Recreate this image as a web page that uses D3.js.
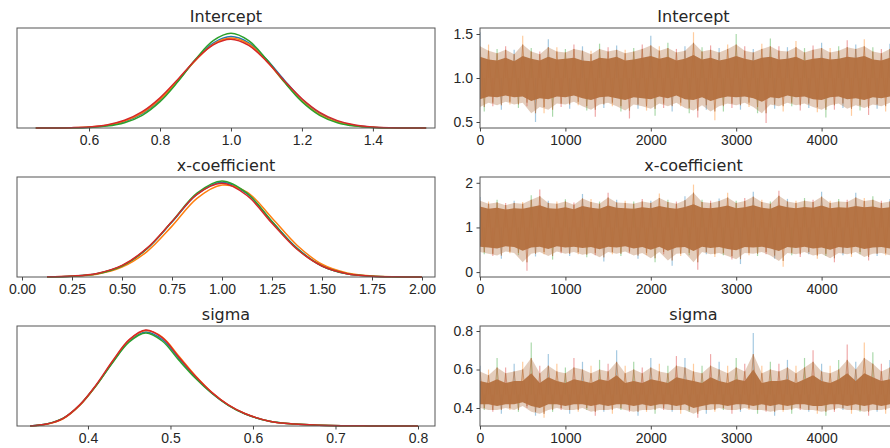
<!DOCTYPE html>
<html>
<head>
<meta charset="utf-8">
<title>Trace plot - D3.js</title>
<script src="https://d3js.org/d3.v7.min.js"></script>
<style>
  body { margin: 0; background: #fff; }
  svg { display: block; font-family: "DejaVu Sans", sans-serif; }
  .tick text { fill: #262626; font-size: 14px; }
  .tick line { stroke: #444; }
  .title { font-size: 16px; fill: #262626; text-anchor: middle; }
  .frame { fill: none; stroke: #555; stroke-width: 1; }
</style>
</head>
<body>
<div id="chart"></div>
<script>
// chain colours (matplotlib default cycle)
const chainColors = ["#1f77b4", "#ff7f0e", "#2ca02c", "#d62728"];

// ---- posterior densities ----
const interceptGrid = [0.45, 0.50, 0.55, 0.60, 0.65, 0.70, 0.75, 0.80, 0.85, 0.90, 0.95, 1.00,
  1.05, 1.10, 1.15, 1.20, 1.25, 1.30, 1.35, 1.40, 1.45, 1.50, 1.55];
const interceptBlue   = [0.0, 0.002, 0.008, 0.027, 0.083, 0.22, 0.49, 0.95, 1.59, 2.30, 2.87, 3.09, 2.88, 2.32, 1.62, 0.97, 0.50, 0.22, 0.085, 0.028, 0.008, 0.002, 0.0];
const interceptOrange = [0.0, 0.002, 0.009, 0.03, 0.09, 0.235, 0.51, 0.97, 1.60, 2.28, 2.83, 3.04, 2.84, 2.27, 1.56, 0.92, 0.46, 0.20, 0.075, 0.025, 0.007, 0.002, 0.0];
const interceptGreen  = [0.0, 0.001, 0.005, 0.019, 0.064, 0.18, 0.43, 0.89, 1.56, 2.32, 2.95, 3.20, 2.95, 2.32, 1.56, 0.89, 0.43, 0.18, 0.064, 0.019, 0.005, 0.001, 0.0];
const interceptRed    = [0.001, 0.003, 0.012, 0.037, 0.105, 0.26, 0.55, 1.02, 1.64, 2.30, 2.81, 3.00, 2.79, 2.26, 1.60, 0.99, 0.53, 0.25, 0.10, 0.036, 0.011, 0.003, 0.0];

const xcoefGrid = [0.125, 0.25, 0.375, 0.5, 0.625, 0.75, 0.875, 1.0, 1.125, 1.25, 1.375, 1.5, 1.625, 1.75, 1.875, 2.0];
const xcoefBlue   = [0.002, 0.014, 0.058, 0.19, 0.49, 0.95, 1.43, 1.64, 1.44, 0.96, 0.50, 0.19, 0.055, 0.012, 0.002, 0.0];
const xcoefOrange = [0.002, 0.011, 0.048, 0.17, 0.44, 0.88, 1.36, 1.59, 1.47, 1.02, 0.55, 0.22, 0.07, 0.018, 0.004, 0.001];
const xcoefGreen  = [0.002, 0.013, 0.056, 0.19, 0.49, 0.96, 1.45, 1.66, 1.45, 0.96, 0.49, 0.19, 0.056, 0.013, 0.002, 0.0];
const xcoefRed    = [0.003, 0.016, 0.062, 0.20, 0.50, 0.96, 1.43, 1.62, 1.41, 0.93, 0.48, 0.19, 0.057, 0.014, 0.003, 0.0];

const sigmaGrid = [0.33, 0.35, 0.37, 0.39, 0.41, 0.43, 0.45, 0.47, 0.49, 0.51, 0.53, 0.55, 0.57, 0.59, 0.62, 0.65, 0.68, 0.71, 0.74, 0.77, 0.80];
const sigmaBlue   = [0.0, 0.19, 0.76, 2.08, 4.06, 6.40, 8.48, 9.40, 8.65, 6.78, 4.90, 3.30, 2.08, 1.23, 0.47, 0.19, 0.076, 0.029, 0.01, 0.0, 0.0];
const sigmaOrange = [0.0, 0.17, 0.72, 2.05, 4.05, 6.45, 8.60, 9.55, 8.90, 7.00, 5.05, 3.38, 2.12, 1.25, 0.48, 0.19, 0.075, 0.028, 0.01, 0.003, 0.0];
const sigmaGreen  = [0.0, 0.20, 0.78, 2.10, 4.05, 6.35, 8.40, 9.30, 8.50, 6.60, 4.80, 3.28, 2.07, 1.22, 0.47, 0.19, 0.075, 0.028, 0.01, 0.0, 0.0];
const sigmaRed    = [0.0, 0.19, 0.77, 2.11, 4.13, 6.53, 8.64, 9.60, 8.83, 6.91, 4.99, 3.36, 2.11, 1.25, 0.48, 0.19, 0.077, 0.029, 0.01, 0.0, 0.0];

// ---- traces ----
// every 100 draws: extreme excursions (hi / lo), edge of the light fringe and of the dense core
const traceSteps = d3.range(0, 5001, 100);

const interceptHi = [1.52, 1.38, 1.33, 1.36, 1.32, 1.48, 1.34, 1.30, 1.44, 1.35, 1.33, 1.38, 1.36, 1.31, 1.39, 1.35, 1.37,
  1.32, 1.34, 1.38, 1.48, 1.36, 1.40, 1.33, 1.36, 1.52, 1.35, 1.37, 1.34, 1.38, 1.50, 1.36, 1.33, 1.39, 1.45, 1.36,
  1.35, 1.42, 1.34, 1.37, 1.40, 1.34, 1.36, 1.43, 1.38, 1.44, 1.35, 1.33, 1.39, 1.36, 1.34];
const interceptLo = [0.62, 0.68, 0.64, 0.70, 0.66, 0.68, 0.50, 0.60, 0.56, 0.67, 0.65, 0.69, 0.63, 0.56, 0.66, 0.68, 0.62,
  0.54, 0.65, 0.63, 0.57, 0.66, 0.62, 0.68, 0.60, 0.55, 0.64, 0.52, 0.62, 0.66, 0.64, 0.67, 0.60, 0.49, 0.65, 0.62,
  0.68, 0.63, 0.66, 0.61, 0.55, 0.64, 0.66, 0.57, 0.63, 0.58, 0.65, 0.62, 0.67, 0.64, 0.66];
const interceptFringeHi = [1.36, 1.31, 1.28, 1.32, 1.27, 1.38, 1.30, 1.27, 1.35, 1.30, 1.29, 1.33, 1.31, 1.27, 1.33, 1.30, 1.32,
  1.28, 1.30, 1.33, 1.37, 1.31, 1.34, 1.29, 1.31, 1.40, 1.30, 1.32, 1.29, 1.33, 1.38, 1.31, 1.29, 1.33, 1.36, 1.31,
  1.30, 1.35, 1.29, 1.32, 1.34, 1.29, 1.31, 1.35, 1.33, 1.36, 1.30, 1.28, 1.33, 1.31, 1.29];
const interceptFringeLo = [0.67, 0.72, 0.69, 0.73, 0.70, 0.72, 0.60, 0.67, 0.64, 0.71, 0.70, 0.73, 0.68, 0.64, 0.70, 0.72, 0.68,
  0.63, 0.70, 0.68, 0.65, 0.71, 0.68, 0.72, 0.66, 0.63, 0.69, 0.62, 0.68, 0.71, 0.69, 0.72, 0.67, 0.60, 0.70, 0.68,
  0.72, 0.69, 0.71, 0.67, 0.64, 0.69, 0.71, 0.65, 0.69, 0.66, 0.70, 0.68, 0.72, 0.70, 0.71];
const interceptCoreHi = [1.24, 1.21, 1.20, 1.23, 1.19, 1.25, 1.22, 1.20, 1.24, 1.21, 1.22, 1.23, 1.20, 1.19, 1.23, 1.22, 1.24,
  1.20, 1.21, 1.23, 1.25, 1.22, 1.24, 1.20, 1.22, 1.26, 1.21, 1.23, 1.20, 1.22, 1.25, 1.22, 1.20, 1.23, 1.24, 1.21,
  1.22, 1.24, 1.20, 1.22, 1.23, 1.21, 1.22, 1.24, 1.23, 1.25, 1.21, 1.20, 1.23, 1.22, 1.21];
const interceptCoreLo = [0.76, 0.79, 0.78, 0.80, 0.78, 0.79, 0.74, 0.77, 0.76, 0.79, 0.78, 0.80, 0.77, 0.75, 0.78, 0.79, 0.77,
  0.75, 0.78, 0.77, 0.76, 0.79, 0.77, 0.80, 0.76, 0.75, 0.78, 0.74, 0.77, 0.79, 0.78, 0.79, 0.77, 0.73, 0.78, 0.77,
  0.80, 0.78, 0.79, 0.76, 0.75, 0.78, 0.79, 0.76, 0.77, 0.75, 0.78, 0.77, 0.79, 0.78, 0.79];

const xcoefHi = [1.68, 1.58, 1.62, 1.55, 1.60, 1.57, 1.72, 1.85, 1.60, 1.58, 1.63, 1.56, 1.75, 1.64, 1.58, 1.78, 1.62,
  1.60, 1.58, 1.64, 1.60, 1.76, 1.62, 1.58, 1.70, 1.96, 1.62, 1.60, 1.65, 1.78, 1.60, 1.66, 1.80, 1.62, 1.58, 1.82,
  1.64, 1.60, 1.66, 1.62, 1.80, 1.60, 1.64, 1.62, 1.78, 1.66, 1.70, 1.60, 1.64, 1.62, 1.58];
const xcoefLo = [0.40, 0.36, 0.30, 0.42, 0.38, 0.03, 0.35, 0.40, 0.28, 0.42, 0.36, 0.40, 0.33, 0.38, 0.24, 0.40, 0.36,
  0.42, 0.30, 0.38, 0.22, 0.40, 0.14, 0.36, 0.38, 0.05, 0.40, 0.34, 0.38, 0.28, 0.18, 0.38, 0.36, 0.40, 0.30, 0.12,
  0.38, 0.34, 0.40, 0.30, 0.36, 0.22, 0.38, 0.34, 0.40, 0.26, 0.36, 0.38, 0.32, 0.40, 0.36];
const xcoefFringeHi = [1.60, 1.53, 1.56, 1.50, 1.55, 1.53, 1.62, 1.70, 1.55, 1.53, 1.58, 1.51, 1.65, 1.57, 1.53, 1.67, 1.56,
  1.55, 1.53, 1.58, 1.55, 1.66, 1.57, 1.53, 1.61, 1.78, 1.57, 1.55, 1.59, 1.67, 1.55, 1.59, 1.69, 1.57, 1.53, 1.71,
  1.58, 1.55, 1.60, 1.57, 1.69, 1.55, 1.58, 1.57, 1.67, 1.59, 1.62, 1.55, 1.58, 1.57, 1.53];
const xcoefFringeLo = [0.45, 0.41, 0.37, 0.46, 0.43, 0.22, 0.41, 0.45, 0.36, 0.46, 0.41, 0.45, 0.39, 0.43, 0.33, 0.45, 0.41,
  0.46, 0.37, 0.43, 0.31, 0.45, 0.26, 0.41, 0.43, 0.22, 0.45, 0.40, 0.43, 0.36, 0.29, 0.43, 0.41, 0.45, 0.37, 0.25,
  0.43, 0.40, 0.45, 0.37, 0.41, 0.31, 0.43, 0.40, 0.45, 0.34, 0.41, 0.43, 0.38, 0.45, 0.41];
const xcoefCoreHi = [1.47, 1.42, 1.44, 1.40, 1.43, 1.42, 1.46, 1.50, 1.43, 1.42, 1.45, 1.41, 1.48, 1.44, 1.42, 1.49, 1.44,
  1.43, 1.42, 1.45, 1.43, 1.48, 1.44, 1.42, 1.46, 1.52, 1.44, 1.43, 1.45, 1.49, 1.43, 1.45, 1.50, 1.44, 1.42, 1.50,
  1.45, 1.43, 1.46, 1.44, 1.49, 1.43, 1.45, 1.44, 1.48, 1.45, 1.47, 1.43, 1.45, 1.44, 1.42];
const xcoefCoreLo = [0.57, 0.55, 0.53, 0.58, 0.56, 0.48, 0.55, 0.57, 0.52, 0.58, 0.55, 0.57, 0.54, 0.56, 0.51, 0.57, 0.55,
  0.58, 0.53, 0.56, 0.50, 0.57, 0.48, 0.55, 0.56, 0.47, 0.57, 0.54, 0.56, 0.52, 0.49, 0.56, 0.55, 0.57, 0.53, 0.47,
  0.56, 0.54, 0.57, 0.53, 0.55, 0.50, 0.56, 0.54, 0.57, 0.52, 0.55, 0.56, 0.53, 0.57, 0.55];

const sigmaHi = [0.62, 0.60, 0.66, 0.61, 0.63, 0.64, 0.74, 0.62, 0.68, 0.63, 0.61, 0.66, 0.64, 0.62, 0.65, 0.63, 0.70,
  0.62, 0.64, 0.61, 0.66, 0.63, 0.62, 0.67, 0.66, 0.63, 0.62, 0.68, 0.64, 0.62, 0.66, 0.63, 0.79, 0.62, 0.64, 0.63,
  0.65, 0.62, 0.66, 0.70, 0.63, 0.62, 0.65, 0.73, 0.64, 0.74, 0.69, 0.63, 0.65, 0.62, 0.64];
const sigmaLo = [0.39, 0.38, 0.37, 0.39, 0.38, 0.40, 0.36, 0.35, 0.38, 0.39, 0.37, 0.38, 0.39, 0.36, 0.38, 0.37, 0.39,
  0.38, 0.36, 0.38, 0.37, 0.39, 0.38, 0.37, 0.38, 0.35, 0.37, 0.38, 0.39, 0.37, 0.38, 0.39, 0.37, 0.38, 0.36, 0.38,
  0.37, 0.39, 0.38, 0.37, 0.36, 0.38, 0.39, 0.37, 0.38, 0.36, 0.38, 0.37, 0.39, 0.38, 0.37];
const sigmaFringeHi = [0.59, 0.57, 0.61, 0.58, 0.59, 0.60, 0.66, 0.58, 0.62, 0.59, 0.58, 0.61, 0.60, 0.58, 0.60, 0.59, 0.64,
  0.58, 0.60, 0.58, 0.61, 0.59, 0.58, 0.62, 0.61, 0.59, 0.58, 0.62, 0.60, 0.58, 0.61, 0.59, 0.68, 0.58, 0.60, 0.59,
  0.61, 0.58, 0.61, 0.64, 0.59, 0.58, 0.60, 0.65, 0.60, 0.66, 0.63, 0.59, 0.61, 0.58, 0.60];
const sigmaFringeLo = [0.40, 0.39, 0.39, 0.40, 0.39, 0.41, 0.38, 0.37, 0.39, 0.40, 0.39, 0.39, 0.40, 0.38, 0.39, 0.39, 0.40,
  0.39, 0.38, 0.39, 0.39, 0.40, 0.39, 0.39, 0.39, 0.37, 0.39, 0.39, 0.40, 0.39, 0.39, 0.40, 0.39, 0.39, 0.38, 0.39,
  0.39, 0.40, 0.39, 0.39, 0.38, 0.39, 0.40, 0.39, 0.39, 0.38, 0.39, 0.39, 0.40, 0.39, 0.39];
const sigmaCoreHi = [0.54, 0.53, 0.55, 0.53, 0.54, 0.54, 0.58, 0.53, 0.56, 0.54, 0.53, 0.55, 0.54, 0.53, 0.55, 0.54, 0.57,
  0.53, 0.54, 0.53, 0.55, 0.54, 0.53, 0.56, 0.55, 0.54, 0.53, 0.56, 0.54, 0.53, 0.55, 0.54, 0.60, 0.53, 0.54, 0.54,
  0.55, 0.53, 0.55, 0.57, 0.54, 0.53, 0.55, 0.58, 0.54, 0.58, 0.56, 0.54, 0.55, 0.53, 0.54];
const sigmaCoreLo = [0.42, 0.42, 0.41, 0.42, 0.42, 0.43, 0.41, 0.40, 0.42, 0.42, 0.41, 0.42, 0.42, 0.41, 0.42, 0.41, 0.42,
  0.42, 0.41, 0.42, 0.41, 0.42, 0.42, 0.41, 0.42, 0.40, 0.41, 0.42, 0.42, 0.41, 0.42, 0.42, 0.41, 0.42, 0.41, 0.42,
  0.41, 0.42, 0.42, 0.41, 0.41, 0.42, 0.42, 0.41, 0.42, 0.41, 0.42, 0.41, 0.42, 0.42, 0.41];

// ---- tick labels ----
const interceptTicks = [0.6, 0.8, 1.0, 1.2, 1.4];
const xcoefTicks = [0.00, 0.25, 0.50, 0.75, 1.00, 1.25, 1.50, 1.75, 2.00];
const sigmaTicks = [0.4, 0.5, 0.6, 0.7, 0.8];
const interceptTraceTicks = [0.5, 1.0, 1.5];
const xcoefTraceTicks = [0, 1, 2];
const sigmaTraceTicks = [0.4, 0.6, 0.8];
const stepTicks = [0, 1000, 2000, 3000, 4000];

// ---- layout ----
const W = 890, H = 448;
const rowTop = [28, 177, 326], rowH = 100;
const kdeRange = [17, 435], traceRange = [480, 907];
const brown = "#b3703f";

const panels = [
  { name: "Intercept", grid: interceptGrid, kde: [interceptBlue, interceptOrange, interceptGreen, interceptRed],
    xDomain: [0.397, 1.575], yMax: 3.38, xTicks: interceptTicks, fmt: ".1f",
    hi: interceptHi, lo: interceptLo, center: 1.0, coreHi: interceptCoreHi, coreLo: interceptCoreLo,
    fringeHi: interceptFringeHi, fringeLo: interceptFringeLo,
    tDomain: [0.432, 1.568], tTicks: interceptTraceTicks, tFmt: ".1f" },
  { name: "x-coefficient", grid: xcoefGrid, kde: [xcoefBlue, xcoefOrange, xcoefGreen, xcoefRed],
    xDomain: [-0.025, 2.065], yMax: 1.73, xTicks: xcoefTicks, fmt: ".2f",
    hi: xcoefHi, lo: xcoefLo, center: 1.0, coreHi: xcoefCoreHi, coreLo: xcoefCoreLo,
    fringeHi: xcoefFringeHi, fringeLo: xcoefFringeLo,
    tDomain: [-0.11, 2.13], tTicks: xcoefTraceTicks, tFmt: "d" },
  { name: "sigma", grid: sigmaGrid, kde: [sigmaBlue, sigmaOrange, sigmaGreen, sigmaRed],
    xDomain: [0.314, 0.8206], yMax: 10.0, xTicks: sigmaTicks, fmt: ".1f",
    hi: sigmaHi, lo: sigmaLo, center: 0.47, coreHi: sigmaCoreHi, coreLo: sigmaCoreLo,
    fringeHi: sigmaFringeHi, fringeLo: sigmaFringeLo,
    tDomain: [0.3065, 0.826], tTicks: sigmaTraceTicks, tFmt: ".1f" }
];

const svg = d3.select("#chart").append("svg")
  .attr("width", W)
  .attr("height", H);

panels.forEach((p, r) => {
  const top = rowTop[r], bottom = top + rowH;

  // ---------- density panel ----------
  const x = d3.scaleLinear().domain(p.xDomain).range(kdeRange);
  const y = d3.scaleLinear().domain([0, p.yMax]).range([bottom, top]);

  const line = d3.line()
    .x((d, i) => x(p.grid[i]))
    .y(d => y(d))
    .curve(d3.curveCatmullRom.alpha(0.5));

  p.kde.forEach((vals, c) => {
    svg.append("path")
      .attr("d", line(vals))
      .attr("fill", "none")
      .attr("stroke", chainColors[c])
      .attr("stroke-width", 1.5);
  });

  svg.append("rect").attr("class", "frame")
    .attr("x", kdeRange[0]).attr("y", top)
    .attr("width", kdeRange[1] - kdeRange[0]).attr("height", rowH);

  const ax = svg.append("g")
    .attr("transform", `translate(0,${bottom})`)
    .call(d3.axisBottom(x).tickValues(p.xTicks).tickSize(3.5).tickPadding(3.5).tickFormat(d3.format(p.fmt)));
  ax.select(".domain").remove();

  svg.append("text").attr("class", "title")
    .attr("x", (kdeRange[0] + kdeRange[1]) / 2)
    .attr("y", top - 6)
    .text(p.name);

  // ---------- trace panel ----------
  const tx = d3.scaleLinear().domain([0, 5000]).range(traceRange);
  const ty = d3.scaleLinear().domain(p.tDomain).range([bottom, top]);

  const clipId = "clip" + r;
  svg.append("clipPath").attr("id", clipId)
    .append("rect")
    .attr("x", traceRange[0]).attr("y", top)
    .attr("width", traceRange[1] - traceRange[0]).attr("height", rowH);

  const g = svg.append("g").attr("clip-path", `url(#${clipId})`);

  // excursions: one up-spike and one down-spike per block of draws
  g.selectAll(".up").data(traceSteps).enter().append("line")
    .attr("x1", d => tx(d)).attr("x2", d => tx(d))
    .attr("y1", ty(p.center))
    .attr("y2", (d, i) => ty(p.hi[i]))
    .attr("stroke", (d, i) => chainColors[i % 4])
    .attr("stroke-opacity", 0.4)
    .attr("stroke-width", 1.2);

  g.selectAll(".down").data(traceSteps).enter().append("line")
    .attr("x1", d => tx(d + 50)).attr("x2", d => tx(d + 50))
    .attr("y1", ty(p.center))
    .attr("y2", (d, i) => ty(p.lo[i]))
    .attr("stroke", (d, i) => chainColors[(i + 2) % 4])
    .attr("stroke-opacity", 0.4)
    .attr("stroke-width", 1.2);

  // light fringe: area plus a zig-zag between its edges
  const fringe = d3.area()
    .x((d, i) => tx(traceSteps[i]))
    .y0((d, i) => ty(p.fringeLo[i]))
    .y1(d => ty(d));
  g.append("path")
    .attr("d", fringe(p.fringeHi))
    .attr("fill", brown)
    .attr("fill-opacity", 0.35);

  const zig = [];
  traceSteps.forEach((s, i) => {
    zig.push([tx(s), ty(p.fringeHi[i])]);
    zig.push([tx(s + 50), ty(p.fringeLo[i])]);
  });
  g.append("path")
    .attr("d", d3.line()(zig))
    .attr("fill", "none")
    .attr("stroke", brown)
    .attr("stroke-opacity", 0.55)
    .attr("stroke-width", 1);

  // dense core
  const core = d3.area()
    .x((d, i) => tx(traceSteps[i]))
    .y0((d, i) => ty(p.coreLo[i]))
    .y1(d => ty(d));
  g.append("path")
    .attr("d", core(p.coreHi))
    .attr("fill", brown)
    .attr("fill-opacity", 0.95);

  svg.append("rect").attr("class", "frame")
    .attr("x", traceRange[0]).attr("y", top)
    .attr("width", traceRange[1] - traceRange[0]).attr("height", rowH);

  const bx = svg.append("g")
    .attr("transform", `translate(0,${bottom})`)
    .call(d3.axisBottom(tx).tickValues(stepTicks).tickSize(3.5).tickPadding(3.5).tickFormat(d3.format("d")));
  bx.select(".domain").remove();

  const ly = svg.append("g")
    .attr("transform", `translate(${traceRange[0]},0)`)
    .call(d3.axisLeft(ty).tickValues(p.tTicks).tickSize(3.5).tickPadding(3.5).tickFormat(d3.format(p.tFmt)));
  ly.select(".domain").remove();

  svg.append("text").attr("class", "title")
    .attr("x", (traceRange[0] + traceRange[1]) / 2)
    .attr("y", top - 6)
    .text(p.name);
});
</script>
</body>
</html>
